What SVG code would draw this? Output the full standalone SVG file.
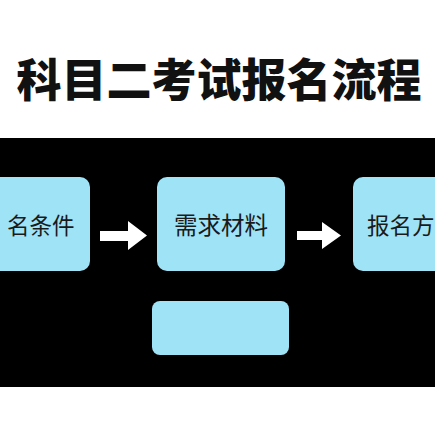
<svg xmlns="http://www.w3.org/2000/svg" width="435" height="435" viewBox="0 0 435 435">
<defs>
<style>
.box{fill:#9fe3f7;}
.lbl{font-family:"Noto Sans CJK SC","Noto Sans",sans-serif;font-size:23.5px;fill:#1a1a1a;text-anchor:middle;dominant-baseline:central;}
.edge{font-size:22.5px;text-anchor:start;}
.title{font-family:"Noto Sans CJK SC","Noto Sans",sans-serif;font-size:45px;font-weight:900;fill:#111;text-anchor:middle;dominant-baseline:central;}
.arrow{fill:#ffffff;}
</style>
</defs>
<rect x="0" y="0" width="435" height="435" fill="#ffffff"/>
<text class="title" x="219" y="77">科目二考试报名流程</text>
<rect x="0" y="138" width="435" height="249" fill="#000000"/>
<g id="node-conditions">
<rect class="box" x="-38" y="177" width="128" height="94" rx="10"/>
<text class="lbl edge" x="7" y="224">名条件</text>
</g>
<g id="node-materials">
<rect class="box" x="157" y="177" width="128" height="94" rx="10"/>
<text class="lbl" x="221" y="224">需求材料</text>
</g>
<g id="node-methods">
<rect class="box" x="353" y="177" width="128" height="94" rx="10"/>
<text class="lbl edge" x="367" y="224">报名方</text>
</g>
<g id="node-empty">
<rect class="box" x="152" y="301" width="137" height="54" rx="8"/>
</g>
<g id="connectors">
<polygon class="arrow" points="100,231 128,231 128,221 147,235.5 128,250 128,241 100,241"/>
<polygon class="arrow" points="297,231 322,231 322,222 341,235.5 322,249 322,240 297,240"/>
</g>
</svg>
